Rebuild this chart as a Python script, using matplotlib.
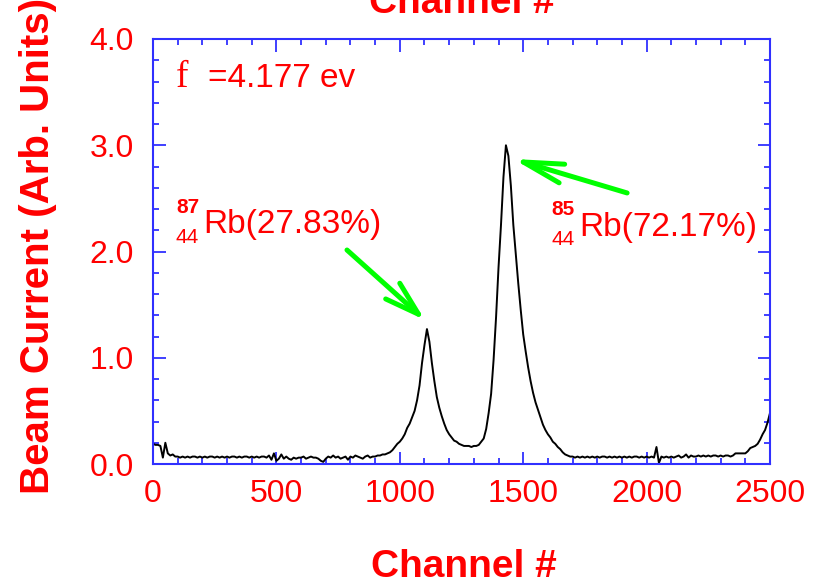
import numpy as np
import matplotlib
matplotlib.use("Agg")
import matplotlib.pyplot as plt
from matplotlib.ticker import MultipleLocator, FormatStrFormatter

plt.rcParams["font.family"] = ["Liberation Sans", "DejaVu Sans"]

# ── data (every 10 channels) ────────────────────────────────
channel = np.arange(0, 2510, 10)
current = [
    0.19, 0.18, 0.18, 0.17, 0.06, 0.20, 0.10, 0.08, 0.09, 0.07,
    0.07, 0.06, 0.07, 0.06, 0.07, 0.06, 0.07, 0.07, 0.06, 0.07,
    0.06, 0.07, 0.06, 0.07, 0.07, 0.06, 0.07, 0.06, 0.07, 0.06,
    0.07, 0.06, 0.07, 0.07, 0.06, 0.07, 0.06, 0.07, 0.07, 0.06,
    0.07, 0.06, 0.07, 0.06, 0.07, 0.07, 0.06, 0.08, 0.04, 0.10,
    0.03, 0.05, 0.09, 0.05, 0.07, 0.05, 0.04, 0.06, 0.05, 0.06,
    0.06, 0.07, 0.05, 0.06, 0.07, 0.06, 0.06, 0.05, 0.03, 0.02,
    0.05, 0.07, 0.06, 0.08, 0.06, 0.07, 0.05, 0.06, 0.07, 0.04,
    0.07, 0.06, 0.08, 0.07, 0.06, 0.05, 0.07, 0.08, 0.06, 0.07,
    0.07, 0.08, 0.08, 0.09, 0.09, 0.10, 0.11, 0.13, 0.16, 0.19,
    0.21, 0.24, 0.28, 0.34, 0.38, 0.44, 0.50, 0.60, 0.74, 0.95,
    1.12, 1.27, 1.15, 0.95, 0.78, 0.63, 0.53, 0.45, 0.38, 0.32,
    0.28, 0.25, 0.22, 0.21, 0.19, 0.18, 0.17, 0.17, 0.17, 0.16,
    0.17, 0.17, 0.18, 0.21, 0.24, 0.33, 0.48, 0.66, 0.98, 1.38,
    1.85, 2.25, 2.70, 3.00, 2.90, 2.62, 2.25, 1.97, 1.70, 1.45,
    1.22, 1.06, 0.91, 0.78, 0.67, 0.58, 0.51, 0.44, 0.37, 0.32,
    0.28, 0.25, 0.21, 0.19, 0.16, 0.14, 0.11, 0.09, 0.08, 0.07,
    0.07, 0.06, 0.07, 0.06, 0.07, 0.06, 0.07, 0.06, 0.07, 0.06,
    0.07, 0.06, 0.07, 0.07, 0.06, 0.07, 0.06, 0.07, 0.06, 0.07,
    0.06, 0.07, 0.06, 0.07, 0.06, 0.07, 0.07, 0.06, 0.07, 0.06,
    0.07, 0.06, 0.07, 0.06, 0.16, 0.01, 0.07, 0.06, 0.07, 0.06,
    0.07, 0.06, 0.07, 0.08, 0.06, 0.07, 0.09, 0.06, 0.08, 0.07,
    0.07, 0.08, 0.07, 0.08, 0.07, 0.08, 0.07, 0.08, 0.08, 0.07,
    0.08, 0.07, 0.08, 0.08, 0.07, 0.08, 0.10, 0.10, 0.10, 0.10,
    0.10, 0.12, 0.15, 0.16, 0.17, 0.19, 0.23, 0.28, 0.32, 0.39,
    0.48,
]

x_ticks = [0, 500, 1000, 1500, 2000, 2500]
y_ticks = [0.0, 1.0, 2.0, 3.0, 4.0]

RED = "#ff0000"
BLUE = "#3030ff"
GREEN = "#00ff00"

fig = plt.figure(figsize=(8.31, 5.84), dpi=100)
ax = fig.add_axes([153 / 831, 1 - 464 / 584, 617 / 831, 425 / 584])

ax.plot(channel, current, color="black", lw=1.4)

ax.set_xlim(0, 2500)
ax.set_ylim(0, 4.0)
ax.set_xticks(x_ticks)
ax.set_yticks(y_ticks)
ax.xaxis.set_minor_locator(MultipleLocator(100))
ax.yaxis.set_minor_locator(MultipleLocator(0.2))
ax.yaxis.set_major_formatter(FormatStrFormatter("%.1f"))

for sp in ax.spines.values():
    sp.set_color(BLUE)
    sp.set_linewidth(1.5)
ax.tick_params(which="both", direction="in", top=True, right=True,
               color=BLUE, width=1.3, labelcolor=RED, labelsize=23)
ax.tick_params(which="major", length=9)
ax.tick_params(which="minor", length=4.5)
ax.tick_params(axis="y", pad=14)
ax.tick_params(axis="x", pad=11)

# axis titles (the top one is cut by the figure edge, as in the original)
fig.text(464 / 831, 1 - 577 / 584, "Channel #", ha="center", va="baseline",
         fontsize=28, fontweight="bold", color=RED)
fig.text(462 / 831, 1 - 13 / 584, "Channel #", ha="center", va="baseline",
         fontsize=28, fontweight="bold", color=RED)
fig.text(38 / 831, 1 - 246 / 584, "Beam Current (Arb. Units)", ha="center",
         va="center", rotation=90, fontsize=29, fontweight="bold", color=RED)

# annotations
ax.text(93, 3.55, "f", fontsize=27, color=RED, family="Liberation Serif",
        va="baseline")
ax.text(223, 3.55, "=4.177 ev", fontsize=24, color=RED, va="baseline")

ax.text(93, 2.36, "87", fontsize=15, fontweight="bold", color=RED, va="baseline")
ax.text(93, 2.08, "44", fontsize=15, color=RED, va="baseline")
ax.text(203, 2.17, "Rb(27.83%)", fontsize=24, color=RED, va="baseline")

ax.text(1613, 2.34, "85", fontsize=15, fontweight="bold", color=RED, va="baseline")
ax.text(1613, 2.06, "44", fontsize=15, color=RED, va="baseline")
ax.text(1726, 2.15, "Rb(72.17%)", fontsize=24, color=RED, va="baseline")

ax.annotate("", xy=(1102, 1.355), xytext=(786, 2.014),
            arrowprops=dict(arrowstyle="->,head_length=1.25,head_width=0.38",
                            color=GREEN, lw=3.6, mutation_scale=20,
                            shrinkA=0, shrinkB=0))
ax.annotate("", xy=(1459, 2.871), xytext=(1921, 2.551),
            arrowprops=dict(arrowstyle="->,head_length=1.45,head_width=0.35",
                            color=GREEN, lw=3.6, mutation_scale=20,
                            shrinkA=0, shrinkB=0))

fig.savefig("out.png", dpi=100, facecolor="white")
